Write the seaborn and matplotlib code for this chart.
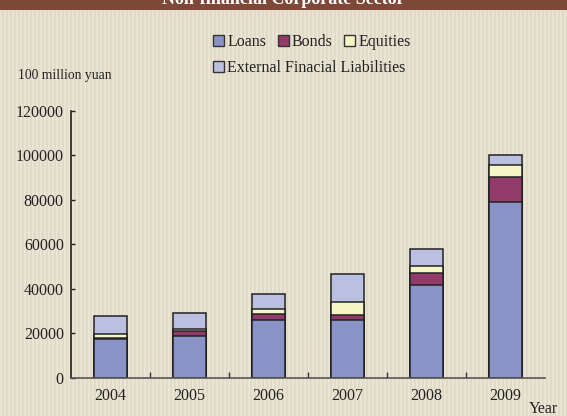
import numpy as np
import pandas as pd
import seaborn as sns
import matplotlib.pyplot as plt
from matplotlib.patches import Patch, Rectangle

years = ["2004", "2005", "2006", "2007", "2008", "2009"]
loans = [17500, 18900, 26200, 26200, 41900, 78900]
bonds = [600, 2100, 2400, 2100, 5400, 11300]
equities = [1500, 1000, 2500, 5700, 3100, 5600]
external = [8200, 7300, 6500, 12600, 7400, 4500]
series_names = ["Loans", "Bonds", "Equities", "External Finacial Liabilities"]
colors = ["#8a93c8", "#943a6a", "#f4f6c6", "#bbbfe0"]

df = pd.DataFrame({"Year": years, "Loans": loans, "Bonds": bonds,
                   "Equities": equities, "External": external})
# cumulative totals, drawn from tallest down so each layer covers the one below
cum = df[["Loans", "Bonds", "Equities", "External"]].cumsum(axis=1)

sns.set_theme(style="white")
plt.rcParams["font.family"] = ["Liberation Serif", "DejaVu Serif"]

fig = plt.figure(figsize=(5.67, 4.16), dpi=100, facecolor="#e3dbca")

# striped background
bg = fig.add_axes([0, 0, 1, 1], zorder=-10)
stripe = np.tile(np.array([0, 0, 1, 1]), 150)[:567]
bg.imshow(stripe[None, :], aspect="auto", extent=(0, 1, 0, 1), interpolation="nearest",
          cmap=plt.matplotlib.colors.ListedColormap(["#e8e5d3", "#e2dac9"]))
bg.set_axis_off()

# title banner
fig.patches.append(Rectangle((0, 1 - 9.5 / 416), 1, 9.5 / 416, transform=fig.transFigure,
                             facecolor="#7d4838", edgecolor="none", zorder=5))
fig.text(0.5, 1 - 4 / 416, "Non-financial Corporate Sector", ha="center", va="baseline",
         color="white", fontsize=13, fontweight="bold", zorder=6)

ax = fig.add_axes([70.7 / 567, 1 - 378 / 416, (545 - 70.7) / 567, (378 - 110.7) / 416])
ax.patch.set_alpha(0)

for col, c in zip(["External", "Equities", "Bonds", "Loans"], colors[::-1]):
    sns.barplot(x=df["Year"], y=cum[col], color=c, width=0.42, edgecolor="#222222",
                linewidth=1.1, saturation=1, ax=ax)

ax.set_xlim(-0.5, 5.5)
ax.set_ylim(0, 120000)
ax.set_yticks(range(0, 120001, 20000))
ax.set_yticklabels([str(v) for v in range(0, 120001, 20000)])
ax.set_xticks(range(len(years)))
ax.set_xticklabels(years)
ax.set_xticks(np.arange(0.5, 5, 1), minor=True)
ax.tick_params(axis="x", which="major", length=0, pad=7, labelsize=11.5, colors="#222222")
ax.tick_params(axis="x", which="minor", length=4, width=1, direction="in", color="#333333",
               bottom=True)
ax.tick_params(axis="y", length=3, width=1, direction="in", pad=5, labelsize=11.5,
               colors="#222222", left=True)
ax.set_xlabel("")
ax.set_ylabel("")
for s in ["top", "right"]:
    ax.spines[s].set_visible(False)
ax.spines["left"].set_color("#222222")
ax.spines["left"].set_linewidth(1.2)
ax.spines["bottom"].set_color("#555555")
ax.spines["bottom"].set_linewidth(1.2)

fig.text(18 / 567, 1 - 76 / 416, "100 million yuan", ha="left", va="center", fontsize=9.8,
         color="#222222")
fig.text(543 / 567, 1 - 409 / 416, "Year", ha="center", va="center", fontsize=11.5,
         color="#222222")

handles = [Patch(facecolor=c, edgecolor="#333333", linewidth=1) for c in colors]
leg_kw = dict(frameon=False, fontsize=11.5, handlelength=0.7, handleheight=0.7,
              handletextpad=0.2, borderpad=0, borderaxespad=0, loc="center left")
leg1 = fig.legend(handles[:3], series_names[:3], ncol=3, columnspacing=0.7,
                  bbox_to_anchor=(213 / 567, 1 - 42.3 / 416), **leg_kw)
leg2 = fig.legend(handles[3:], series_names[3:],
                  bbox_to_anchor=(213 / 567, 1 - 68.3 / 416), **leg_kw)
for leg in (leg1, leg2):
    for t in leg.get_texts():
        t.set_color("#222222")

fig.savefig("out.png", dpi=100, facecolor=fig.get_facecolor())
